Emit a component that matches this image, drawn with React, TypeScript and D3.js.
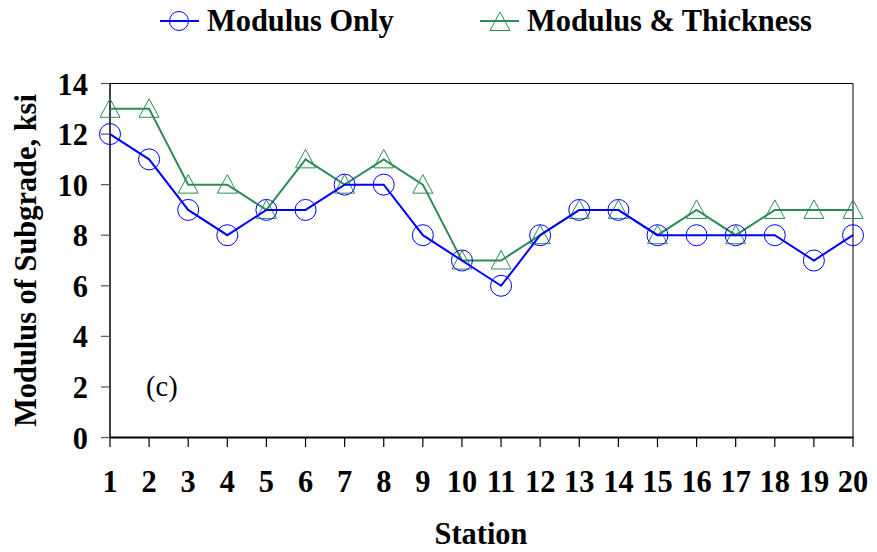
import React from "react";
import * as d3 from "d3";

const stations = [1, 2, 3, 4, 5, 6, 7, 8, 9, 10, 11, 12, 13, 14, 15, 16, 17, 18, 19, 20];
const modulusOnly = [12, 11, 9, 8, 9, 9, 10, 10, 8, 7, 6, 8, 9, 9, 8, 8, 8, 8, 7, 8];
const modulusThickness = [13, 13, 10, 10, 9, 11, 10, 11, 10, 7, 7, 8, 9, 9, 8, 9, 8, 9, 9, 9];
const yTicks = [0, 2, 4, 6, 8, 10, 12, 14];

const W = 877, H = 552;
const L = 110, R = 853, T = 83.5, B = 437.5;
const BLUE = "#0000ff";
const GREEN = "#2e8b57";
const FONT = "Liberation Serif";
const FS = 32;
const SX = 0.95;

function tri(cx: number, cy: number, s = 10) {
  return `M${cx},${cy - s} L${cx + s * 1.0},${cy + s * 0.85} L${cx - s * 1.0},${cy + s * 0.85} Z`;
}

function Txt(props: {
  x: number; y: number; rot?: number; anchor?: "start" | "middle" | "end";
  size?: number; bold?: boolean; children: React.ReactNode;
}) {
  const { x, y, rot = 0, anchor = "start", size = FS, bold = true, children } = props;
  return (
    <text
      transform={`translate(${x},${y}) rotate(${rot}) scale(${SX},1)`}
      textAnchor={anchor}
      fontSize={size}
      fontWeight={bold ? "bold" : "normal"}
      style={{ fontFamily: FONT }}
      fill="#000"
    >
      {children}
    </text>
  );
}

export default function App() {
  const x = d3.scaleLinear().domain([1, 20]).range([L, R]);
  const y = d3.scaleLinear().domain([0, 14]).range([B, T]);
  const line = d3.line<number>().x((_, i) => x(stations[i])).y((d) => y(d));

  return (
    <svg width={W} height={H} style={{ position: "absolute", left: 0, top: 0, fontFamily: FONT }}>
      <rect width={W} height={H} fill="#fff" />
      <line x1={L} y1={T} x2={R} y2={T} stroke="#000" strokeWidth={1} />
      <line x1={R} y1={T} x2={R} y2={B} stroke="#000" strokeWidth={1} />
      <line x1={L} y1={T} x2={L} y2={B} stroke="#000" strokeWidth={1.5} />
      <line x1={L} y1={B} x2={R + 0.5} y2={B} stroke="#000" strokeWidth={2} />
      {yTicks.map((t) => (
        <g key={t}>
          <line x1={101} x2={L} y1={y(t)} y2={y(t)} stroke="#555" strokeWidth={1.2} />
          <Txt x={88} y={y(t) + 11} anchor="end">{t}</Txt>
        </g>
      ))}
      {stations.map((s) => (
        <g key={s}>
          <line x1={x(s)} x2={x(s)} y1={B} y2={447} stroke="#000" strokeWidth={1.2} />
          <Txt x={x(s)} y={492} anchor="middle">{s}</Txt>
        </g>
      ))}
      <Txt x={481} y={544} anchor="middle">Station</Txt>
      <Txt x={36} y={(T + B) / 2} rot={-90} anchor="middle">Modulus of Subgrade, ksi</Txt>
      <Txt x={146} y={396} size={30} bold={false}>(c)</Txt>

      <path d={line(modulusThickness) || ""} fill="none" stroke={GREEN} strokeWidth={2} />
      {modulusThickness.map((v, i) => (
        <path key={i} d={tri(x(stations[i]), y(v))} fill="none" stroke={GREEN} strokeWidth={1} />
      ))}
      <path d={line(modulusOnly) || ""} fill="none" stroke={BLUE} strokeWidth={2} />
      {modulusOnly.map((v, i) => (
        <circle key={i} cx={x(stations[i])} cy={y(v)} r={10.5} fill="none" stroke={BLUE} strokeWidth={1} />
      ))}

      <line x1={160} x2={199} y1={21} y2={21} stroke={BLUE} strokeWidth={2} />
      <circle cx={179} cy={21} r={9.5} fill="none" stroke={BLUE} strokeWidth={1} />
      <Txt x={207} y={31}>Modulus Only</Txt>
      <line x1={480} x2={519} y1={21} y2={21} stroke={GREEN} strokeWidth={2} />
      <path d={tri(500, 22, 10)} fill="none" stroke={GREEN} strokeWidth={1} />
      <Txt x={527} y={31}>Modulus &amp; Thickness</Txt>
    </svg>
  );
}
